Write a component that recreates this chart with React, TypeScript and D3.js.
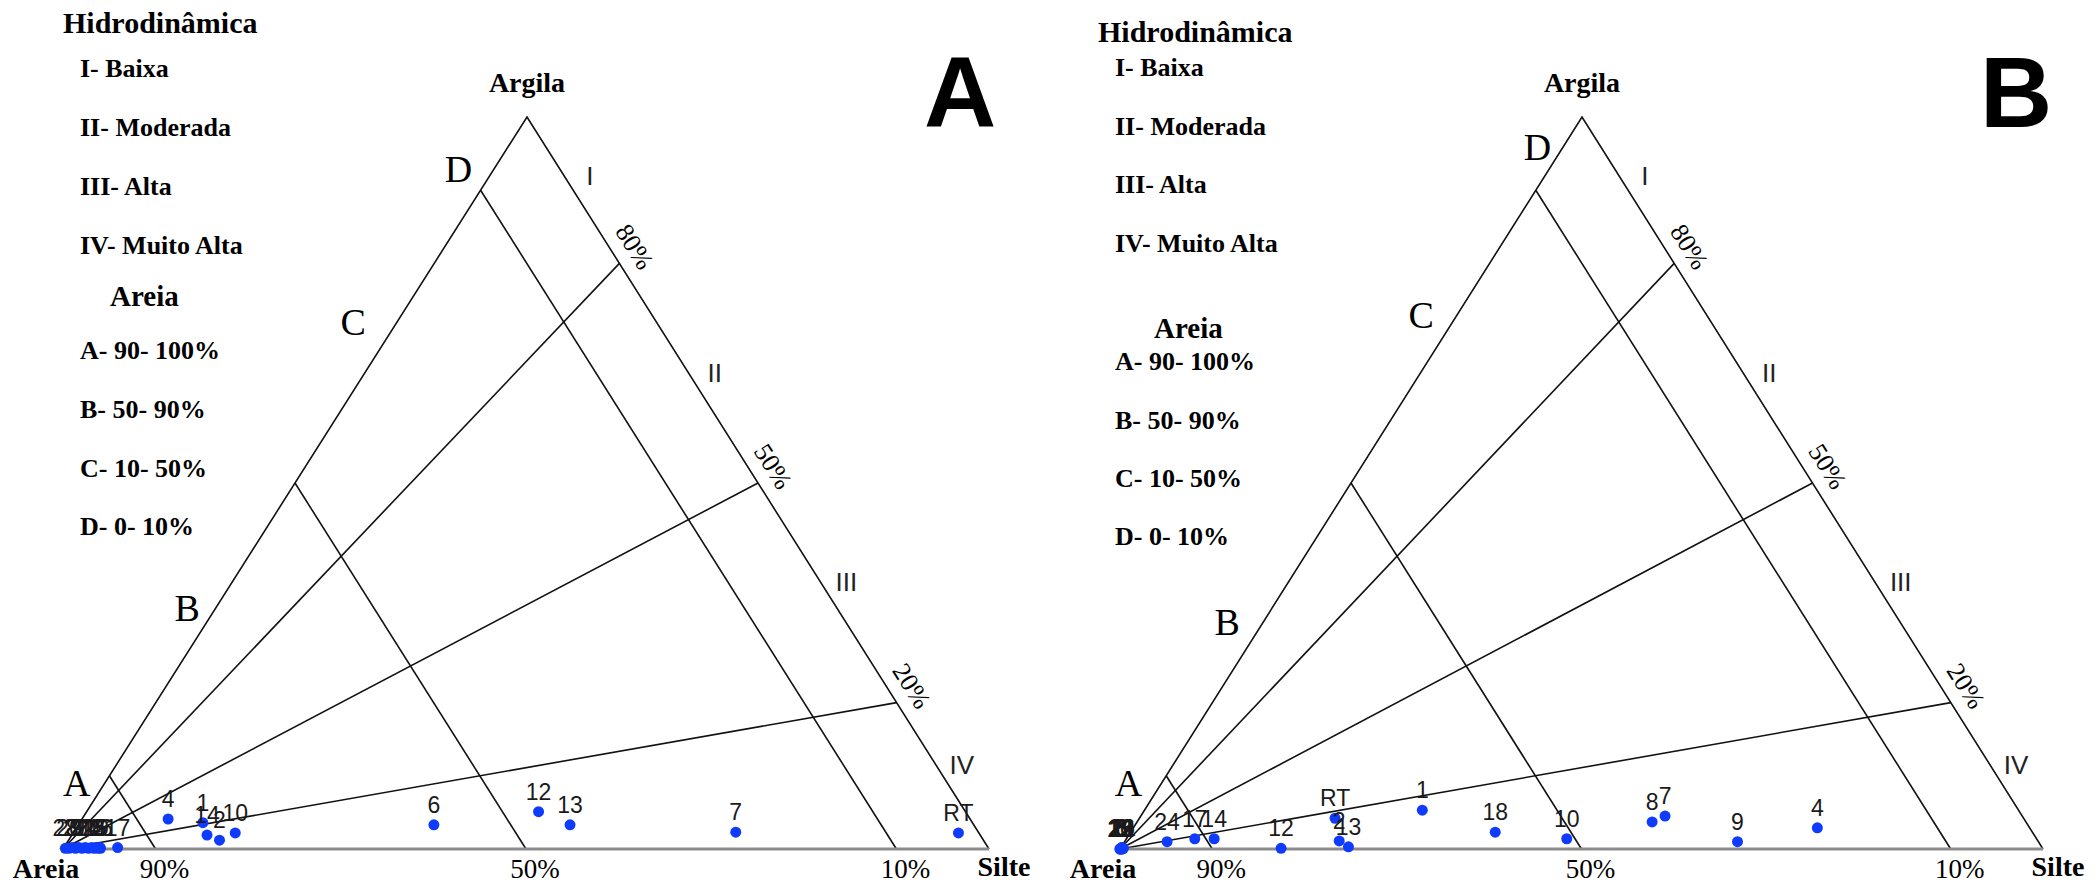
import React, { useRef, useEffect } from 'react';
import * as d3 from 'd3';

// Painel A - amostras (silte %, argila %; areia = resto)
const labelsA = ['RT', '7', '13', '12', '6', '10', '2', '14', '1', '4', '17',
  '23', '20', '8', '21', '9', '22', '11', '24', '18', '15', '19', '3', '16', '5'];
const siltA = [95.6, 71.5, 53.1, 48.8, 38.4, 17.5, 16.3, 14.6, 13.3, 9.3, 5.8,
  0.2, 0.6, 0.9, 1.3, 1.6, 2.0, 2.3, 2.7, 3.0, 3.3, 3.5, 3.7, 3.9, 4.0];
const clayA = [2.2, 2.3, 3.3, 5.1, 3.3, 2.2, 1.2, 1.9, 3.6, 4.1, 0.2,
  0.1, 0.1, 0.2, 0.1, 0.2, 0.1, 0.2, 0.1, 0.2, 0.1, 0.2, 0.1, 0.2, 0.1];

// Painel B
const labelsB = ['24', '17', '14', '12', 'RT', '2', '13', '1', '18', '10', '8', '7', '9', '4',
  '3', '5', '6', '11', '15', '16', '19', '20', '21', '22', '23'];
const siltB = [4.6, 7.4, 9.5, 17.4, 21.2, 23.2, 24.6, 30.1, 39.5, 47.7, 55.8, 56.8, 66.4, 74.1,
  0.1, 0.2, 0.1, 0.3, 0.0, 0.2, 0.1, 0.0, 0.3, 0.2, 0.1];
const clayB = [1.0, 1.4, 1.4, 0.1, 4.2, 1.1, 0.3, 5.3, 2.3, 1.4, 3.7, 4.5, 1.0, 2.9,
  0.1, 0.0, 0.2, 0.1, 0.0, 0.1, 0.2, 0.0, 0.1, 0.0, 0.1];

// classes do diagrama
const sandLevels = [90, 50, 10];
const clayRatios = [80, 50, 20];
const romanLabels = ['I', 'II', 'III', 'IV'];
const romanFrac = [0.92, 0.65, 0.365, 0.115];
const zoneLabels = ['A', 'B', 'C', 'D'];
const hidroLegend = ['I- Baixa', 'II- Moderada', 'III- Alta', 'IV- Muito Alta'];
const areiaLegend = ['A- 90- 100%', 'B- 50- 90%', 'C- 10- 50%', 'D- 0- 10%'];

const serif = '"Liberation Serif", "Times New Roman", serif';
const sans = '"Liberation Sans", Arial, sans-serif';
const blue = '#0f3cfc';

const panels = [
  {
    name: 'A', labels: labelsA, silt: siltA, clay: clayA,
    areia: [63, 849], silte: [989, 849], argila: [527, 117],
    zoneF: [0.09, 0.33, 0.72, 0.93], zoneDx: [-28, -29, -44, -36],
    legend: { titleX: 63, titleY: 33, itemX: 80, itemY: [77, 136, 195, 254], subX: 110, subY: 306, areiaY: [359, 418, 477, 535] },
    letterX: 924,
  },
  {
    name: 'B', labels: labelsB, silt: siltB, clay: clayB,
    areia: [1120, 849], silte: [2043, 849], argila: [1582, 117],
    zoneF: [0.09, 0.31, 0.73, 0.96], zoneDx: [-33, -36, -36, -26],
    legend: { titleX: 1098, titleY: 42, itemX: 1115, itemY: [76, 135, 193, 252], subX: 1154, subY: 338, areiaY: [370, 429, 487, 545] },
    letterX: 1980,
  },
];

const drawPanel = (svg, p) => {
  const g = svg.append('g');
  const [ax, by] = p.areia;
  const [cx, cy] = p.argila;
  const W = p.silte[0] - ax;

  const siltX = d3.scaleLinear().domain([0, 100]).range([0, W]);
  const clayX = d3.scaleLinear().domain([0, 100]).range([0, cx - ax]);
  const clayY = d3.scaleLinear().domain([0, 100]).range([by, cy]);
  const proj = (silt, clay) => [ax + siltX(silt) + clayX(clay), clayY(clay)];

  const line = d3.line();
  const black = (pts) => g.append('path').attr('d', line(pts))
    .attr('fill', 'none').attr('stroke', '#111').attr('stroke-width', 1.6);

  // lados
  black([proj(0, 0), proj(0, 100), proj(100, 0)]);

  // linhas de areia (paralelas ao lado argila-silte)
  sandLevels.forEach(s => black([proj(0, 100 - s), proj(100 - s, 0)]));
  // linhas radiais (razao argila/silte)
  clayRatios.forEach(r => black([proj(0, 0), proj(100 - r, r)]));

  // base cinza
  g.append('path').attr('d', line([proj(0, 0), proj(100, 0)]))
    .attr('stroke', '#8c8c8c').attr('stroke-width', 3);

  // rotulos do lado direito
  const [sx, sy] = proj(100, 0);
  const len = Math.hypot(sx - cx, sy - cy);
  const dx = (sx - cx) / len, dy = (sy - cy) / len;
  const ang = Math.atan2(dy, dx) * 180 / Math.PI;
  clayRatios.forEach(r => {
    const [px, py] = proj(100 - r, r);
    const tx = px + dy * 22 - dx * 6, ty = py - dx * 22 - dy * 6;
    g.append('text').attr('transform', `translate(${tx},${ty}) rotate(${ang})`)
      .attr('text-anchor', 'middle').attr('dy', '0.35em')
      .style('font-family', serif).style('font-size', '26px').text(`${r}%`);
  });

  romanLabels.forEach((t, i) => {
    const f = romanFrac[i] * 100;
    const [px, py] = proj(100 - f, f);
    g.append('text').attr('x', px + 26).attr('y', py).attr('dy', '0.35em')
      .attr('text-anchor', 'middle').style('font-family', sans).style('font-size', '26px')
      .attr('fill', '#222').text(t);
  });

  zoneLabels.forEach((t, i) => {
    const f = p.zoneF[i] * 100;
    const [px, py] = proj(0, f);
    g.append('text').attr('x', px + p.zoneDx[i]).attr('y', py).attr('dy', '0.35em')
      .attr('text-anchor', 'middle').style('font-family', serif).style('font-size', '38px').text(t);
  });

  sandLevels.forEach(s => {
    const [px] = proj(100 - s, 0);
    g.append('text').attr('x', px + 9).attr('y', by + 29).attr('text-anchor', 'middle')
      .style('font-family', serif).style('font-size', '27px').text(`${s}%`);
  });

  // vertices
  const bold = (x, y, t, anchor = 'middle') => g.append('text').attr('x', x).attr('y', y)
    .attr('text-anchor', anchor).style('font-family', serif).style('font-weight', 'bold')
    .style('font-size', '28px').text(t);
  bold(cx, cy - 25, 'Argila');
  bold(ax - 17, by + 29, 'Areia');
  bold(sx + 15, by + 27, 'Silte');

  // amostras
  const pts = p.labels.map((l, i) => ({ l, xy: proj(p.silt[i], p.clay[i]) }));
  g.append('g').selectAll('circle').data(pts).enter().append('circle')
    .attr('cx', d => d.xy[0]).attr('cy', d => d.xy[1]).attr('r', 5.5).attr('fill', blue);
  g.append('g').selectAll('text').data(pts).enter().append('text')
    .attr('x', d => d.xy[0]).attr('y', d => d.xy[1] - 12).attr('text-anchor', 'middle')
    .style('font-family', sans).style('font-size', '23px').attr('fill', '#1a1a1a')
    .text(d => d.l);

  // legenda
  const L = p.legend;
  const leg = (x, y, t, size) => g.append('text').attr('x', x).attr('y', y)
    .style('font-family', serif).style('font-weight', 'bold').style('font-size', size).text(t);
  leg(L.titleX, L.titleY, 'Hidrodinâmica', '30px');
  hidroLegend.forEach((t, i) => leg(L.itemX, L.itemY[i], t, '26px'));
  leg(L.subX, L.subY, 'Areia', '29px');
  areiaLegend.forEach((t, i) => leg(L.itemX, L.areiaY[i], t, '26px'));

  // letra do painel
  g.append('text').attr('x', p.letterX).attr('y', 127)
    .style('font-family', sans).style('font-weight', 'bold').style('font-size', '100px')
    .text(p.name);
};

const App = () => {
  const svgRef = useRef(null);

  useEffect(() => {
    const svg = d3.select(svgRef.current);
    svg.selectAll('*').remove();
    panels.forEach(p => drawPanel(svg, p));
  }, []);

  return (
    <svg ref={svgRef} width={2100} height={886}
      style={{ position: 'absolute', left: 0, top: 0, background: '#fff' }} />
  );
};

export default App;
